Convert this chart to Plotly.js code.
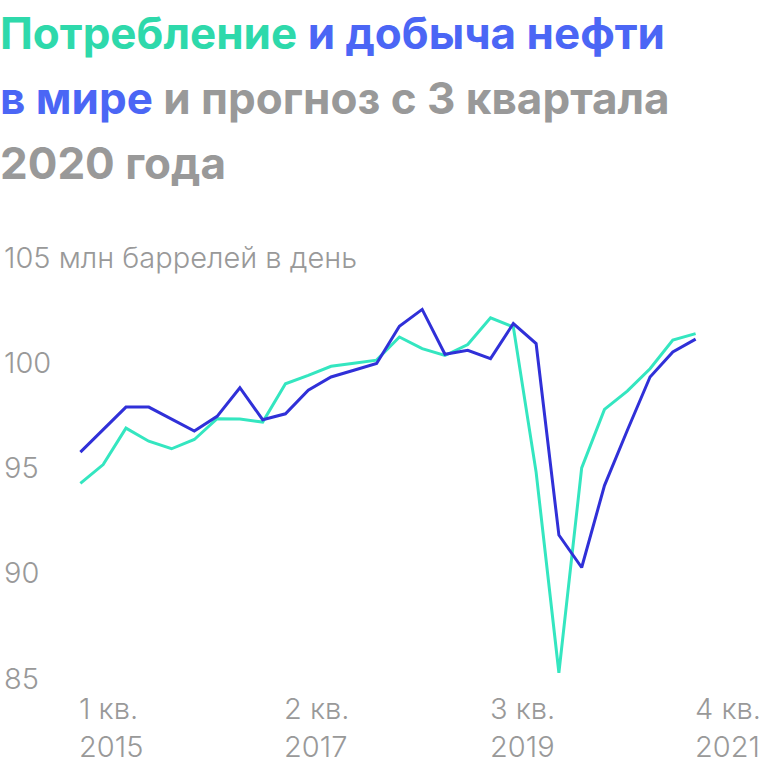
<!DOCTYPE html>
<html>
<head>
<meta charset="utf-8">
<script src="https://cdn.plot.ly/plotly-3.0.1.min.js"></script>
<style>
  html, body { margin: 0; padding: 0; background: #fff; }
  #chart { width: 768px; height: 768px; }
</style>
</head>
<body>
<div id="chart"></div>
<script>
// quarters, 1 кв. 2015 .. 4 кв. 2021
var quarters = [
    '1кв15', '2кв15', '3кв15', '4кв15',
    '1кв16', '2кв16', '3кв16', '4кв16',
    '1кв17', '2кв17', '3кв17', '4кв17',
    '1кв18', '2кв18', '3кв18', '4кв18',
    '1кв19', '2кв19', '3кв19', '4кв19',
    '1кв20', '2кв20', '3кв20', '4кв20',
    '1кв21', '2кв21', '3кв21', '4кв21'
];

// млн баррелей в день
var consumption = [94.25, 95.14, 96.87, 96.25, 95.89, 96.33, 97.32, 97.30,
                   97.16, 98.98, 99.38, 99.81, 99.95, 100.10, 101.20, 100.65,
                   100.32, 100.84, 102.11, 101.68, 94.78, 85.25, 94.98, 97.76,
                   98.63, 99.69, 101.05, 101.36];
var production  = [95.73, 96.80, 97.87, 97.87, 97.30, 96.73, 97.43, 98.79,
                   97.27, 97.55, 98.67, 99.30, 99.62, 99.94, 101.71, 102.51,
                   100.38, 100.57, 100.17, 101.84, 100.89, 91.79, 90.25, 94.14,
                   96.76, 99.30, 100.49, 101.10];

var xTickAt = ['1кв15', '2кв17', '3кв19', '4кв21'];
var xTickQuarter = ['1 кв.', '2 кв.', '3 кв.', '4 кв.'];
var xTickYear = ['2015', '2017', '2019', '2021'];

var yTicks = [85, 90, 95, 100, 105];
var yTickText = ['85', '90', '95', '100', '105 млн баррелей в день'];

var teal = '#34e6c0';
var blue = '#3030d8';
var gray = '#999999';
var titleTeal = '#2ed9ab';
var titleBlue = '#4b66f5';

var traces = [
    {x: quarters, y: consumption, type: 'scatter', mode: 'lines',
     line: {color: teal, width: 3}, cliponaxis: false, hoverinfo: 'skip'},
    {x: quarters, y: production, type: 'scatter', mode: 'lines',
     line: {color: blue, width: 3}, cliponaxis: false, hoverinfo: 'skip'}
];

var W = 768, H = 768;
var mL = 69, mR = 61, mT = 257, mB = 90;
var plotW = W - mL - mR, plotH = H - mT - mB;

// convert page pixels to paper coords
function px(x) { return (x - mL) / plotW; }
function py(y) { return (H - mB - y) / plotH; }

var titleFont = {family: 'Inter, Roboto, sans-serif', size: 44, weight: 700};
var annotations = [];

var titleLines = [
    '<span style="color:' + titleTeal + '">Потребление</span> <span style="color:' + titleBlue + '">и добыча нефти</span>',
    '<span style="color:' + titleBlue + '">в мире</span> <span style="color:' + gray + '">и прогноз с 3 квартала</span>',
    '<span style="color:' + gray + '">2020 года</span>'
];
var titleY = [33, 98, 163];
for (var i = 0; i < titleLines.length; i++) {
    annotations.push({
        text: titleLines[i], showarrow: false,
        xref: 'paper', yref: 'paper', x: px(-2), y: py(titleY[i]),
        xanchor: 'left', yanchor: 'middle', align: 'left',
        font: titleFont
    });
}

var labelFont = {family: 'Inter, Roboto, sans-serif', size: 29, weight: 300, color: gray};

for (var i = 0; i < yTicks.length; i++) {
    annotations.push({
        text: yTickText[i], showarrow: false,
        xref: 'paper', yref: 'y', x: px(2), y: yTicks[i],
        xanchor: 'left', yanchor: 'middle',
        font: labelFont
    });
}

for (var i = 0; i < xTickAt.length; i++) {
    annotations.push({
        text: xTickQuarter[i], showarrow: false,
        xref: 'x', yref: 'paper', x: xTickAt[i], y: py(708),
        xanchor: 'left', yanchor: 'middle', xshift: -3,
        font: labelFont
    });
    annotations.push({
        text: xTickYear[i], showarrow: false,
        xref: 'x', yref: 'paper', x: xTickAt[i], y: py(746),
        xanchor: 'left', yanchor: 'middle', xshift: -3,
        font: labelFont
    });
}

var layout = {
    width: W, height: H,
    margin: {l: mL, r: mR, t: mT, b: mB},
    paper_bgcolor: '#fff', plot_bgcolor: '#fff',
    showlegend: false,
    xaxis: {type: 'category', range: [-0.5, 27.5], showgrid: false,
            zeroline: false, showline: false, showticklabels: false, ticks: ''},
    yaxis: {range: [85, 105], showgrid: false, zeroline: false,
            showline: false, showticklabels: false, ticks: ''},
    annotations: annotations
};

Plotly.newPlot('chart', traces, layout, {staticPlot: true});
</script>
</body>
</html>
